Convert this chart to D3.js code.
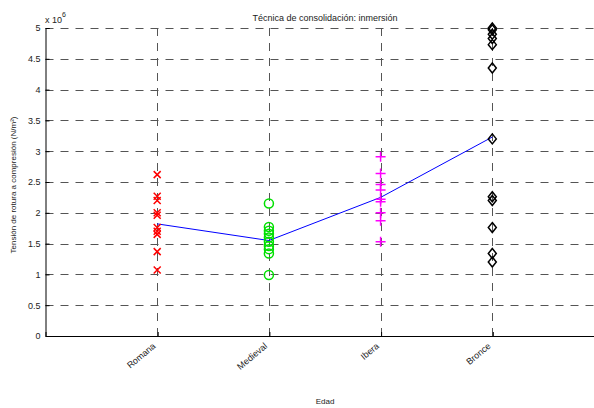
<!DOCTYPE html>
<html><head><meta charset="utf-8">
<script src="https://cdn.jsdelivr.net/npm/d3@7"></script>
<style>body{margin:0;background:#fff}svg{display:block}text{font-family:"Liberation Sans",Arial,sans-serif}</style>
</head><body>
<script>
const categories = ["Romana","Medieval","Ibera","Bronce"];
const romana   = [2.62,2.27,2.20,2.00,1.96,1.76,1.70,1.65,1.37,1.07].map(v=>v*1e6);
const medieval = [2.15,1.77,1.71,1.66,1.60,1.53,1.46,1.41,1.34,0.99].map(v=>v*1e6);
const ibera    = [2.91,2.64,2.46,2.37,2.22,2.18,2.00,1.87,1.53].map(v=>v*1e6);
const bronce   = [5.0,4.97,4.90,4.83,4.73,4.35,3.20,2.26,2.20,1.76,1.34,1.20].map(v=>v*1e6);
const means    = [1.82,1.55,2.25,3.23].map(v=>v*1e6);
const yTicks   = [0,0.5,1,1.5,2,2.5,3,3.5,4,4.5,5].map(v=>v*1e6);
const title = "Técnica de consolidación: inmersión";
const xTitle = "Edad";
const yTitle = "Tensión de rotura a compresión (N/m²)";

const W=594,H=408;
const svg=d3.select("body").append("svg").attr("width",W).attr("height",H);
const x=d3.scaleLinear().domain([0,5]).range([45.5,604]);
const y=d3.scaleLinear().domain([0,5e6]).range([336,28]);

// grid
const g=svg.append("g");
g.selectAll("line.hg").data(yTicks.filter(v=>v>0)).join("line")
 .attr("x1",x(0)).attr("x2",W).attr("y1",d=>Math.round(y(d))+0.5).attr("y2",d=>Math.round(y(d))+0.5)
 .attr("stroke","#555").attr("stroke-dasharray","8,7");
g.selectAll("line.vg").data(categories).join("line")
 .attr("x1",(d,i)=>Math.round(x(i+1))+0.5).attr("x2",(d,i)=>Math.round(x(i+1))+0.5)
 .attr("y1",y(5e6)).attr("y2",y(0))
 .attr("stroke","#555").attr("stroke-dasharray","8,7");

// axes
const yAxis=d3.axisLeft(y).tickValues(yTicks).tickSize(-4).tickPadding(5)
 .tickFormat(d=>d3.format("")(d/1e6));
const ya=svg.append("g").attr("transform",`translate(${x(0)},0)`).call(yAxis);
ya.select(".domain").attr("stroke","#000");
ya.selectAll("text").attr("font-size",9).attr("fill","#222").attr("font-family","Liberation Sans, Arial");
const xAxis=d3.axisBottom(x).tickValues([1,2,3,4]).tickSize(-4).tickFormat("");
const xa=svg.append("g").attr("transform",`translate(0,${y(0)})`).call(xAxis);
xa.select(".domain").attr("stroke","#000");
xa.selectAll("line").attr("transform","translate(0.5,0)");

// category labels
svg.selectAll("text.cat").data(categories).join("text")
 .attr("transform",(d,i)=>`translate(${x(i+1)-1},${y(0)+11}) rotate(-40)`)
 .attr("text-anchor","end").attr("font-size",9).attr("fill","#222").text(d=>d);

// mean line
svg.append("path").datum(means)
 .attr("d",d3.line().x((d,i)=>x(i+1)).y(d=>y(d)))
 .attr("fill","none").attr("stroke","#0000ff").attr("stroke-width",1);

// markers
const mg=svg.append("g");
mg.selectAll("path.r").data(romana).join("path")
 .attr("d",d=>{const cx=x(1),cy=y(d),s=3.5;return `M${cx-s},${cy-s}L${cx+s},${cy+s}M${cx-s},${cy+s}L${cx+s},${cy-s}`;})
 .attr("stroke","#ff0000").attr("stroke-width",1.5).attr("fill","none");
mg.selectAll("circle.m").data(medieval).join("circle")
 .attr("cx",x(2)).attr("cy",d=>y(d)).attr("r",4.5)
 .attr("stroke","#00e000").attr("stroke-width",1.5).attr("fill","none");
mg.selectAll("path.i").data(ibera).join("path")
 .attr("d",d=>{const cx=x(3),cy=y(d),s=5;return `M${cx-s},${cy}L${cx+s},${cy}M${cx},${cy-s}L${cx},${cy+s}`;})
 .attr("stroke","#ff00ff").attr("stroke-width",1.5).attr("fill","none");
mg.selectAll("path.b").data(bronce).join("path")
 .attr("d",d=>{const cx=x(4),cy=y(d),a=4,b=5;return `M${cx},${cy-b}L${cx+a},${cy}L${cx},${cy+b}L${cx-a},${cy}Z`;})
 .attr("stroke","#000").attr("stroke-width",1.5).attr("fill","none");

// titles
svg.append("text").attr("x",325).attr("y",21).attr("text-anchor","middle").attr("font-size",9).attr("fill","#222").text(title);
svg.append("text").attr("x",325).attr("y",404).attr("text-anchor","middle").attr("font-size",8).attr("fill","#222").text(xTitle);
svg.append("text").attr("transform","translate(16,185) rotate(-90)").attr("text-anchor","middle").attr("font-size",8).attr("fill","#222").text(yTitle);
const ex=svg.append("text").attr("x",45).attr("y",23).attr("font-size",9).attr("fill","#222");
ex.append("tspan").text("x 10");
ex.append("tspan").attr("dy",-6).attr("font-size",7).text("6");
</script>
</body></html>
